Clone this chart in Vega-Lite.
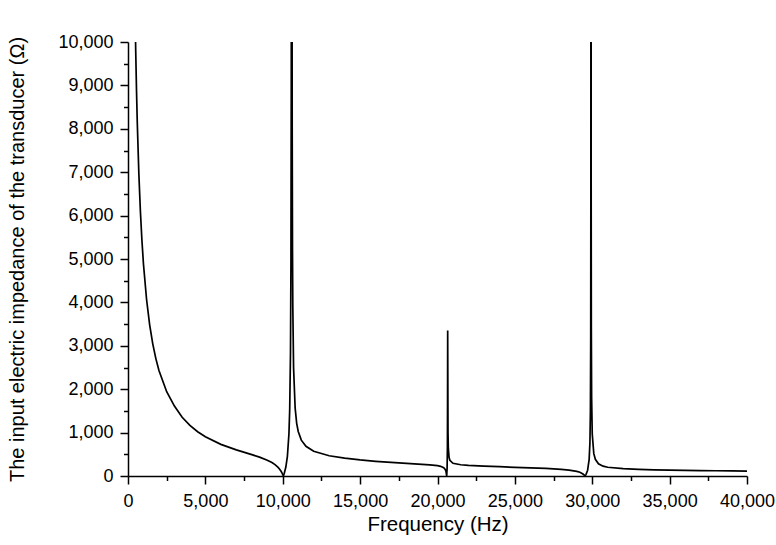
{
  "$schema": "https://vega.github.io/schema/vega-lite/v6.json",
  "width": 619,
  "height": 434,
  "autosize": "none",
  "padding": {"left": 128, "top": 42, "right": 29, "bottom": 69},
  "background": "white",
  "config": {"view": {"stroke": null}, "font": "Liberation Sans"},
  "data": {"values": [
    {"f": 450, "z": 10854}, {"f": 480, "z": 10176}, {"f": 500, "z": 9769}, {"f": 550, "z": 8881},
    {"f": 600, "z": 8141}, {"f": 700, "z": 6978}, {"f": 800, "z": 6106}, {"f": 900, "z": 5427},
    {"f": 1000, "z": 4880}, {"f": 1200, "z": 4066}, {"f": 1400, "z": 3484}, {"f": 1600, "z": 3045},
    {"f": 1800, "z": 2705}, {"f": 2000, "z": 2432}, {"f": 2500, "z": 1941}, {"f": 3000, "z": 1612},
    {"f": 3500, "z": 1352}, {"f": 4000, "z": 1166}, {"f": 4500, "z": 1020}, {"f": 5000, "z": 903},
    {"f": 6000, "z": 729}, {"f": 7000, "z": 603}, {"f": 8000, "z": 492}, {"f": 8500, "z": 434},
    {"f": 9000, "z": 364}, {"f": 9300, "z": 310}, {"f": 9500, "z": 262}, {"f": 9700, "z": 199},
    {"f": 9800, "z": 157}, {"f": 9900, "z": 104}, {"f": 9950, "z": 72}, {"f": 10000, "z": 34},
    {"f": 10040, "z": 0}, {"f": 10100, "z": 62}, {"f": 10200, "z": 207}, {"f": 10300, "z": 454},
    {"f": 10400, "z": 974}, {"f": 10450, "z": 1539}, {"f": 10500, "z": 2836}, {"f": 10530, "z": 4940},
    {"f": 10550, "z": 8954}, {"f": 10560, "z": 14530}, {"f": 10577, "z": 60000}, {"f": 10595, "z": 14371},
    {"f": 10610, "z": 8066}, {"f": 10630, "z": 5197}, {"f": 10650, "z": 3897}, {"f": 10700, "z": 2490},
    {"f": 10800, "z": 1568}, {"f": 10900, "z": 1214}, {"f": 11000, "z": 1025}, {"f": 11200, "z": 826},
    {"f": 11500, "z": 684}, {"f": 12000, "z": 570}, {"f": 13000, "z": 466}, {"f": 14000, "z": 410},
    {"f": 15000, "z": 370}, {"f": 16000, "z": 339}, {"f": 17000, "z": 313}, {"f": 18000, "z": 290},
    {"f": 19000, "z": 268}, {"f": 19500, "z": 255}, {"f": 20000, "z": 237}, {"f": 20200, "z": 223},
    {"f": 20400, "z": 192}, {"f": 20500, "z": 151}, {"f": 20550, "z": 103}, {"f": 20594, "z": 0},
    {"f": 20620, "z": 174}, {"f": 20640, "z": 649}, {"f": 20650, "z": 1785}, {"f": 20658, "z": 3350},
    {"f": 20665, "z": 2535}, {"f": 20680, "z": 983}, {"f": 20700, "z": 635}, {"f": 20750, "z": 425},
    {"f": 20800, "z": 363}, {"f": 21000, "z": 294}, {"f": 21500, "z": 259}, {"f": 22000, "z": 245},
    {"f": 23000, "z": 227}, {"f": 24000, "z": 214}, {"f": 25000, "z": 201}, {"f": 26000, "z": 188},
    {"f": 27000, "z": 174}, {"f": 28000, "z": 154}, {"f": 28500, "z": 137}, {"f": 29000, "z": 107},
    {"f": 29200, "z": 85}, {"f": 29400, "z": 46}, {"f": 29500, "z": 14}, {"f": 29532, "z": 0},
    {"f": 29600, "z": 38}, {"f": 29700, "z": 133}, {"f": 29800, "z": 384}, {"f": 29850, "z": 771},
    {"f": 29880, "z": 1474}, {"f": 29900, "z": 3111}, {"f": 29910, "z": 6371}, {"f": 29920, "z": 60000},
    {"f": 29930, "z": 6715}, {"f": 29940, "z": 3430}, {"f": 29960, "z": 1795}, {"f": 30000, "z": 969},
    {"f": 30100, "z": 515}, {"f": 30200, "z": 384}, {"f": 30400, "z": 283}, {"f": 30700, "z": 227},
    {"f": 31000, "z": 202}, {"f": 32000, "z": 169}, {"f": 33000, "z": 153}, {"f": 34000, "z": 143},
    {"f": 35000, "z": 136}, {"f": 36000, "z": 130}, {"f": 37000, "z": 126}, {"f": 38000, "z": 121},
    {"f": 39000, "z": 118}, {"f": 40000, "z": 114}
  ]},
  "layer": [
    {
      "mark": {"type": "line", "clip": true, "color": "black", "strokeWidth": 1.7, "interpolate": "linear"},
      "encoding": {
        "x": {"field": "f", "type": "quantitative", "sort": null,
          "scale": {"domain": [0, 40000], "nice": false, "zero": false},
          "axis": {"title": "Frequency (Hz)", "values": [0, 5000, 10000, 15000, 20000, 25000, 30000, 35000, 40000],
            "format": ",d", "grid": false, "orient": "bottom",
            "domainColor": "black", "domainWidth": 1.5, "tickColor": "black", "tickWidth": 1.5, "tickSize": 8,
            "labelColor": "black", "labelFontSize": 18, "labelFont": "Liberation Sans", "labelPadding": 8, "labelFlush": false,
            "titleColor": "black", "titleFontSize": 20.5, "titleFont": "Liberation Sans", "titleFontWeight": "normal", "titlePadding": 4}},
        "y": {"field": "z", "type": "quantitative",
          "scale": {"domain": [0, 10000], "nice": false, "zero": false},
          "axis": {"title": "The input electric impedance of the transducer (Ω)",
            "values": [0, 1000, 2000, 3000, 4000, 5000, 6000, 7000, 8000, 9000, 10000],
            "format": ",d", "grid": false, "orient": "left",
            "domainColor": "black", "domainWidth": 1.5, "tickColor": "black", "tickWidth": 1.5, "tickSize": 8,
            "labelColor": "black", "labelFontSize": 18, "labelFont": "Liberation Sans", "labelPadding": 7, "labelFlush": false,
            "titleColor": "black", "titleFontSize": 20, "titleFont": "Liberation Sans", "titleFontWeight": "normal", "titlePadding": 30}}
      }
    },
    {
      "mark": {"type": "line", "opacity": 0, "clip": true},
      "encoding": {
        "x": {"field": "f", "type": "quantitative", "sort": null,
          "axis": {"title": null, "orient": "bottom", "labels": false, "domain": false, "grid": false,
            "values": [2500, 7500, 12500, 17500, 22500, 27500, 32500, 37500],
            "tickColor": "black", "tickWidth": 1.5, "tickSize": 4.5}},
        "y": {"field": "z", "type": "quantitative",
          "axis": {"title": null, "orient": "left", "labels": false, "domain": false, "grid": false,
            "values": [500, 1500, 2500, 3500, 4500, 5500, 6500, 7500, 8500, 9500],
            "tickColor": "black", "tickWidth": 1.5, "tickSize": 4.5}}
      }
    }
  ],
  "resolve": {"axis": {"x": "independent", "y": "independent"}}
}
